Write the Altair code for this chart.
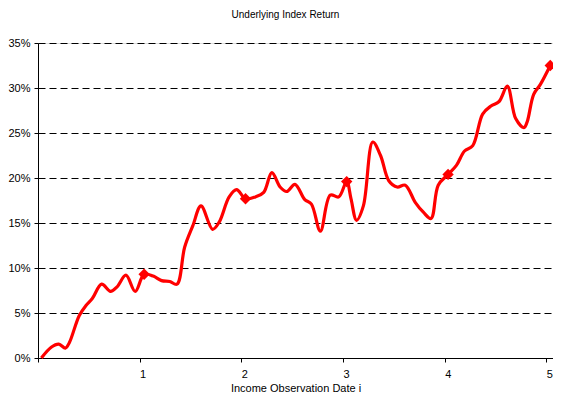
import altair as alt
import pandas as pd

# Line data (x = observation date, y = return as fraction)
line_x = [0.033, 0.130, 0.204, 0.269, 0.308, 0.405, 0.470, 0.534, 0.626, 0.713,
          0.777, 0.865, 0.956, 1.044, 1.134, 1.215, 1.296, 1.367, 1.442, 1.523,
          1.603, 1.717, 1.782, 1.880, 1.953, 2.041, 2.138, 2.220, 2.300, 2.381,
          2.446, 2.527, 2.624, 2.689, 2.777, 2.874, 2.958, 3.036, 3.078, 3.133,
          3.200, 3.292, 3.369, 3.450, 3.532, 3.612, 3.710, 3.790, 3.865, 3.936,
          4.033, 4.115, 4.195, 4.276, 4.373, 4.455, 4.535, 4.616, 4.698, 4.779,
          4.810, 4.875, 4.941, 5.038]
line_y = [0.000, 0.012, 0.0155, 0.011, 0.017, 0.047, 0.058, 0.066, 0.082, 0.074,
          0.079, 0.092, 0.074, 0.093, 0.091, 0.086, 0.085, 0.082, 0.123, 0.147,
          0.169, 0.143, 0.151, 0.179, 0.187, 0.177, 0.179, 0.184, 0.206, 0.190,
          0.185, 0.193, 0.176, 0.171, 0.141, 0.181, 0.179, 0.196, 0.177, 0.153,
          0.169, 0.240, 0.225, 0.197, 0.190, 0.192, 0.173, 0.162, 0.155, 0.192,
          0.204, 0.214, 0.230, 0.236, 0.271, 0.280, 0.285, 0.302, 0.266, 0.256,
          0.262, 0.293, 0.304, 0.325]

# Observation date markers
marker_x = [1.044, 2.041, 3.036, 4.033, 5.038]
marker_y = [0.093, 0.177, 0.196, 0.204, 0.325]

x_ticks = [0, 1, 2, 3, 4, 5]
y_ticks = [0, 0.05, 0.10, 0.15, 0.20, 0.25, 0.30, 0.35]

FONT = "Liberation Sans"

line_df = pd.DataFrame({"x": line_x, "y": line_y})
marker_df = pd.DataFrame({"x": marker_x, "y": marker_y})

x_scale = alt.Scale(domain=[0, 5.065], nice=False, zero=False)
y_scale = alt.Scale(domain=[0, 0.35], nice=False)

x_enc = alt.X("x:Q", scale=x_scale,
              axis=alt.Axis(values=x_ticks, grid=False, format="d",
                            labelExpr="datum.value == 0 ? '' : datum.label",
                            title="Income Observation Date i",
                            titleFont=FONT, titleFontSize=11, titleFontWeight="normal",
                            titleColor="#000", titlePadding=3,
                            labelFont=FONT, labelFontSize=11, labelColor="#000",
                            labelPadding=6, labelOffset=3,
                            tickSize=4, tickColor="#000",
                            domainColor="#000"))
y_enc = alt.Y("y:Q", scale=y_scale,
              axis=alt.Axis(values=y_ticks, format=".0%", title=None,
                            grid=True, gridDash=[7, 4], gridColor="#000",
                            gridOpacity=1, gridWidth=1,
                            labelFont=FONT, labelFontSize=11, labelColor="#000",
                            labelPadding=4, tickSize=4, tickColor="#000",
                            domainColor="#000"))

line = alt.Chart(line_df).mark_line(
    color="#FF0000", strokeWidth=3.2, interpolate="catmull-rom"
).encode(x=x_enc, y=y_enc)

points = alt.Chart(marker_df).mark_point(
    shape="diamond", filled=True, size=130, color="#FF0000", opacity=1
).encode(x="x:Q", y="y:Q")

chart = alt.layer(line, points).properties(
    width=515,
    height=315,
    title=alt.TitleParams("Underlying Index Return", font=FONT, fontSize=10,
                          fontWeight="normal", color="#000", offset=17,
                          anchor="middle", dx=-10),
    autosize=alt.AutoSizeParams(type="none"),
    padding={"left": 30, "top": 35, "right": 0, "bottom": 34},
).configure_view(
    stroke="#c0c0c0", strokeWidth=1
).configure(background="white")

chart.save("out.html", embed_options={"renderer": "svg", "actions": False})
